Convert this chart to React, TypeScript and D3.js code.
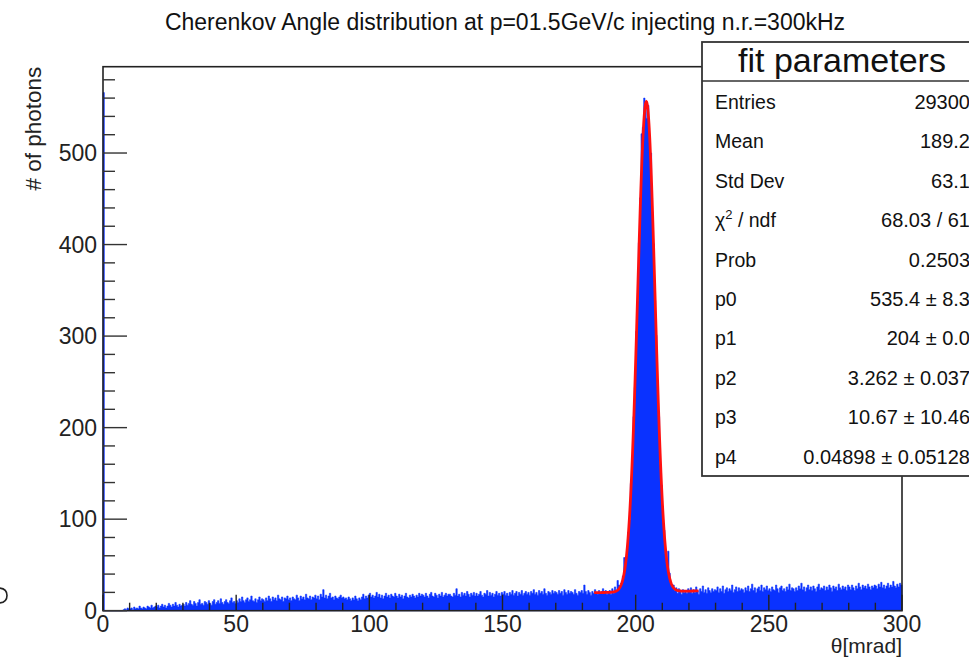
import React from "react";
import * as d3 from "d3";

// ---- data ----
const TITLE = "Cherenkov Angle distribution at p=01.5GeV/c injecting n.r.=300kHz";
const X_TITLE = "θ[mrad]";
const Y_TITLE = "# of photons";
const X_TICKS = [0, 50, 100, 150, 200, 250, 300];
const Y_TICKS = [0, 100, 200, 300, 400, 500];
const BIN_WIDTH = 0.5; // mrad
const X_MIN = 0;
const X_MAX = 300;

// counts per 0.5 mrad bin, 20 bins (10 mrad) per row
const COUNTS = [
  566, 0, 0, 0, 0, 0, 0, 0, 0, 0, 0, 0, 0, 0, 0, 1, 2, 1, 3, 2,
  2, 3, 1, 4, 2, 3, 2, 5, 3, 2, 4, 3, 2, 5, 4, 3, 6, 3, 4, 5,
  4, 6, 3, 5, 7, 4, 6, 3, 5, 8, 6, 4, 7, 5, 9, 6, 4, 7, 5, 6,
  7, 5, 9, 6, 8, 11, 7, 6, 10, 8, 5, 9, 12, 7, 8, 6, 10, 9, 7, 11,
  8, 6, 10, 12, 7, 9, 11, 8, 13, 9, 7, 10, 12, 9, 8, 11, 14, 9, 10, 8,
  11, 9, 13, 10, 15, 11, 9, 12, 14, 10, 12, 16, 11, 10, 13, 9, 12, 15, 11, 13,
  12, 10, 14, 11, 16, 13, 10, 15, 12, 14, 11, 17, 13, 12, 15, 10, 14, 13, 16, 12,
  14, 11, 15, 13, 12, 17, 14, 11, 16, 13, 15, 12, 18, 14, 13, 16, 12, 15, 14, 17,
  13, 16, 12, 18, 15, 23, 14, 17, 13, 16, 19, 14, 15, 12, 16, 14, 13, 15, 17, 14,
  15, 13, 14, 12, 15, 13, 11, 14, 12, 16, 13, 11, 14, 12, 15, 18, 13, 16, 14, 17,
  19, 15, 17, 14, 16, 20, 15, 18, 14, 17, 13, 16, 19, 15, 17, 14, 18, 16, 15, 19,
  16, 14, 18, 15, 17, 13, 16, 19, 15, 14, 17, 15, 18, 16, 14, 17, 15, 19, 16, 18,
  17, 15, 19, 16, 14, 18, 20, 16, 15, 19, 17, 14, 18, 16, 20, 15, 17, 19, 16, 18,
  18, 16, 15, 19, 17, 24, 16, 18, 15, 20, 17, 19, 16, 21, 18, 15, 19, 17, 20, 16,
  19, 16, 18, 21, 17, 15, 19, 18, 22, 16, 20, 17, 19, 15, 18, 21, 17, 19, 16, 20,
  18, 21, 17, 19, 16, 20, 18, 22, 17, 19, 21, 16, 20, 18, 22, 17, 19, 21, 18, 20,
  17, 21, 19, 23, 18, 20, 17, 22, 19, 21, 18, 24, 19, 17, 21, 20, 18, 22, 19, 21,
  20, 18, 22, 19, 21, 17, 23, 20, 18, 22, 19, 21, 20, 18, 23, 19, 17, 21, 20, 22,
  19, 28, 21, 18, 22, 20, 17, 21, 19, 23, 20, 18, 22, 19, 21, 24, 20, 22, 18, 21,
  22, 18, 24, 19, 26, 21, 33, 28, 25, 31, 38, 58, 55, 60, 86, 99, 139, 160, 212, 244,
  305, 338, 402, 451, 521, 528, 560, 549, 538, 552, 510, 500, 436, 401, 339, 301, 241, 212, 160, 137,
  99, 88, 62, 55, 65, 41, 30, 26, 28, 22, 25, 19, 24, 21, 18, 23, 20, 22, 19, 24,
  21, 25, 19, 23, 20, 26, 22, 18, 24, 21, 27, 20, 23, 19, 25, 22, 20, 24, 21, 23,
  22, 26, 20, 24, 21, 27, 19, 23, 25, 21, 24, 22, 28, 20, 23, 26, 21, 25, 22, 24,
  23, 20, 25, 22, 27, 21, 24, 29, 22, 25, 20, 24, 26, 22, 28, 21, 25, 23, 27, 22,
  24, 21, 26, 23, 22, 28, 24, 20, 25, 27, 22, 24, 21, 26, 23, 29, 22, 25, 24, 21,
  25, 22, 27, 24, 30, 23, 26, 21, 25, 28, 23, 26, 22, 27, 24, 21, 26, 29, 23, 25,
  24, 27, 22, 26, 23, 28, 25, 21, 27, 24, 26, 22, 29, 25, 23, 27, 24, 26, 22, 28,
  26, 23, 28, 25, 22, 27, 24, 30, 26, 23, 28, 25, 27, 24, 29, 26, 23, 27, 25, 28,
  27, 24, 29, 26, 31, 25, 28, 24, 27, 30, 25, 28, 26, 32, 27, 25, 29, 26, 30, 28,
];

// fit parameters: gaus(p0,p1,p2) + pol1(p3,p4)
const P0 = 535.4;
const P1 = 204;
const P2 = 3.262;
const P3 = 10.67;
const P4 = 0.04898;
const FIT_RANGE = [184.4, 223.6];

const STATS_TITLE = "fit parameters";
const STATS_LABELS = ["Entries", "Mean", "Std Dev", "χ2 / ndf", "Prob", "p0", "p1", "p2", "p3", "p4"];
const STATS_VALUES = ["29300", "189.2", "63.1", "68.03 / 61", "0.2503", "535.4 ± 8.3", "204 ± 0.0", "3.262 ± 0.037", "10.67 ± 10.46", "0.04898 ± 0.05128"];

// ---- layout ----
const W = 969;
const H = 659;
const FL = 103, FR = 902, FT = 66.7, FB = 610.7;
const FONT = "'Liberation Sans', Arial, Helvetica, sans-serif";
const BLUE = "#0a32ff";

export default function App() {
  const yMax = d3.max(COUNTS)! * 1.05;
  const x = d3.scaleLinear().domain([X_MIN, X_MAX]).range([FL, FR]);
  const y = d3.scaleLinear().domain([0, yMax]).range([FB, FT]);

  const edges = COUNTS.map((c, i) => ({ e: X_MIN + i * BIN_WIDTH, c }));
  edges.push({ e: X_MAX, c: COUNTS[COUNTS.length - 1] });
  const area = d3
    .area<{ e: number; c: number }>()
    .x((d) => x(d.e))
    .y0(FB)
    .y1((d) => y(d.c))
    .curve(d3.curveStepAfter);

  const fitFn = (t: number) => P0 * Math.exp(-((t - P1) ** 2) / (2 * P2 * P2)) + P3 + P4 * t;
  const fitPts = d3.range(0, 401).map((k) => {
    const t = FIT_RANGE[0] + ((FIT_RANGE[1] - FIT_RANGE[0]) * k) / 400;
    return [t, fitFn(t)] as [number, number];
  });
  const fitLine = d3
    .line<[number, number]>()
    .x((d) => x(d[0]))
    .y((d) => y(d[1]));

  const xMinor = d3.range(0, 301, 10).filter((v) => v % 50 !== 0);
  const yMinor = d3.range(0, yMax, 20).filter((v) => v % 100 !== 0);

  const boxL = 702, boxT = 42, boxSep = 81, boxB = 476, boxR = 985;
  const rowY0 = 109, rowDy = 39.4;

  return (
    <svg
      width={W}
      height={H}
      style={{ position: "absolute", left: 0, top: 0, background: "#fff" }}
      fontFamily={FONT}
    >
      <rect x={0} y={0} width={W} height={H} fill="#fff" />
      {/* title */}
      <text x={505} y={30} textAnchor="middle" fontSize={23} fill="#111">
        {TITLE}
      </text>

      {/* histogram */}
      <path d={area(edges) || ""} fill={BLUE} stroke={BLUE} strokeWidth={0.6} />
      {/* fit */}
      <path d={fitLine(fitPts) || ""} fill="none" stroke="#ff1010" strokeWidth={2.8} />

      {/* frame */}
      <rect x={FL} y={FT} width={FR - FL} height={FB - FT} fill="none" stroke="#222" strokeWidth={1.6} />

      {/* x ticks */}
      {X_TICKS.map((v) => (
        <g key={"xt" + v}>
          <line x1={x(v)} x2={x(v)} y1={FB} y2={FB - 16} stroke="#222" strokeWidth={1.4} />
          <text x={x(v)} y={632} textAnchor="middle" fontSize={23} fill="#222">
            {v}
          </text>
        </g>
      ))}
      {xMinor.map((v) => (
        <line key={"xm" + v} x1={x(v)} x2={x(v)} y1={FB} y2={FB - 8} stroke="#222" strokeWidth={1.4} />
      ))}
      {/* y ticks */}
      {Y_TICKS.map((v) => (
        <g key={"yt" + v}>
          <line x1={FL} x2={FL + 24} y1={y(v)} y2={y(v)} stroke="#333" strokeWidth={1.4} />
          <text x={97} y={y(v) + 8} textAnchor="end" fontSize={23} fill="#222">
            {v}
          </text>
        </g>
      ))}
      {yMinor.map((v) => (
        <line key={"ym" + v} x1={FL} x2={FL + 12} y1={y(v)} y2={y(v)} stroke="#333" strokeWidth={1.4} />
      ))}

      {/* axis titles */}
      <text x={FR} y={653} textAnchor="end" fontSize={21} fill="#222">
        {X_TITLE}
      </text>
      <text
        transform={`translate(41, ${FT}) rotate(-90)`}
        textAnchor="end"
        fontSize={22.5}
        fill="#222"
      >
        {Y_TITLE}
      </text>

      {/* stray clipped mark at the left edge (fragment from a neighbouring figure) */}
      <path d="M -2 588 Q 7 588 7 595.5 Q 7 603 -2 603" fill="none" stroke="#222" strokeWidth={1.6} />

      {/* stats box */}
      <rect x={boxL} y={boxT} width={boxR - boxL} height={boxB - boxT} fill="#fff" stroke="#333" strokeWidth={1.8} />
      <line x1={boxL} x2={boxR} y1={boxSep} y2={boxSep} stroke="#333" strokeWidth={1.6} />
      <text x={842} y={72} textAnchor="middle" fontSize={34} fill="#111">
        {STATS_TITLE}
      </text>
      {STATS_LABELS.map((lab, i) => (
        <g key={"s" + i}>
          <text x={715} y={rowY0 + i * rowDy} fontSize={19.5} fill="#111">
            {lab === "χ2 / ndf" ? (
              <>
                χ<tspan dy={-8} fontSize={13}>2</tspan>
                <tspan dy={8}> / ndf</tspan>
              </>
            ) : (
              lab
            )}
          </text>
          <text x={970} y={rowY0 + i * rowDy} textAnchor="end" fontSize={20} fill="#111">
            {STATS_VALUES[i]}
          </text>
        </g>
      ))}
    </svg>
  );
}
